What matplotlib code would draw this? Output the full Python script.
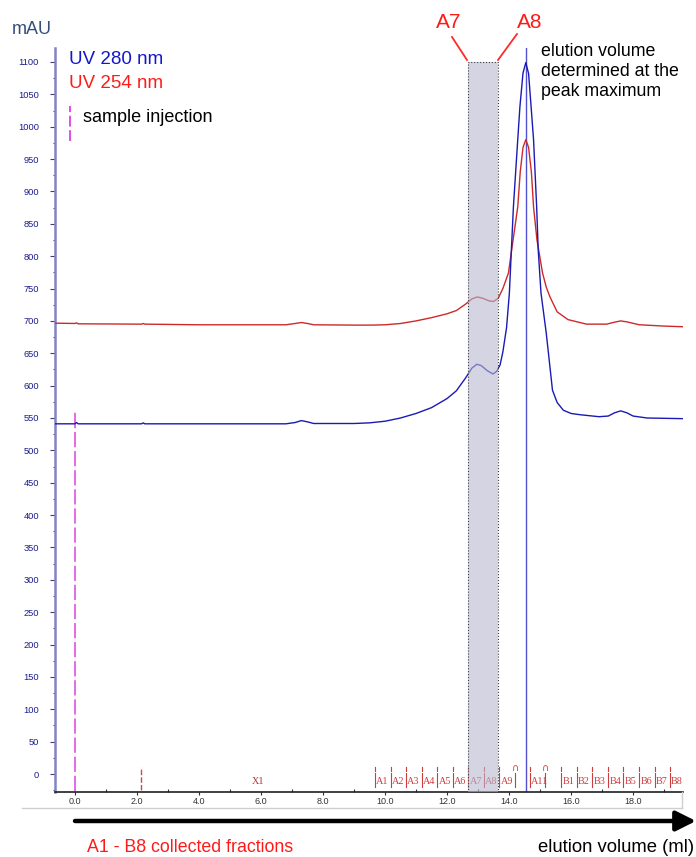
import matplotlib
matplotlib.use('Agg')
import matplotlib.pyplot as plt
from matplotlib.patches import Rectangle
from matplotlib.ticker import MultipleLocator, FormatStrFormatter

plt.rcParams['font.family'] = ['Liberation Sans', 'DejaVu Sans']

# UV 280 nm trace (ml, mAU)
uv280_ml = [-0.65, 0.0, 0.05, 0.1, 2.15, 2.2, 2.25, 6.8, 7.1, 7.3, 7.5, 7.7, 9.0, 9.5,
            10.0, 10.5, 11.0, 11.5, 12.0, 12.3, 12.6, 12.8, 12.96, 13.1, 13.3, 13.48,
            13.6, 13.71, 13.8, 13.92, 14.01, 14.14, 14.28, 14.35, 14.45, 14.54, 14.63,
            14.72, 14.79, 14.89, 14.94, 15.03, 15.2, 15.4, 15.55, 15.75, 16.0, 16.3,
            16.9, 17.2, 17.4, 17.6, 17.8, 18.0, 18.45, 19.0, 19.6]
uv280_mau = [541, 541, 543, 541, 541, 542.5, 541, 541, 543, 546, 544, 541.5, 541.5, 542.5,
             545, 550, 557, 566, 580, 592, 612, 627, 633, 631, 623, 618,
             622, 632, 652, 690, 743, 876, 980, 1031, 1083, 1099, 1082,
             1025, 980, 876, 810, 743, 681, 593, 574, 562, 557, 555,
             552, 553, 558, 561, 558, 553, 550, 549.5, 549]

# UV 254 nm trace
uv254_ml = [-0.65, 0.0, 0.05, 0.1, 2.15, 2.2, 2.25, 4.0, 6.8, 7.1, 7.3, 7.5, 7.7, 9.0,
            9.6, 10.0, 10.5, 11.0, 11.5, 12.0, 12.3, 12.6, 12.8, 12.97, 13.15, 13.35,
            13.5, 13.65, 13.8, 13.98, 14.1, 14.28, 14.36, 14.45, 14.54, 14.63, 14.72,
            14.79, 14.9, 15.08, 15.2, 15.32, 15.55, 15.9, 16.5, 17.15, 17.4, 17.6, 17.8,
            18.2, 19.0, 19.6]
uv254_mau = [696.5, 696, 697, 695.5, 695, 696, 695, 694, 694, 696, 697.5, 696, 694, 693.5,
             693.5, 694, 696, 700, 705, 711, 716, 726, 734, 737, 735, 731,
             730, 735, 750, 774, 815, 876, 930, 968, 980, 968, 930,
             876, 825, 774, 752, 737, 714, 702, 695, 695, 698, 700, 698.5,
             694, 692, 691]

# fraction collector marks
frac_start = [9.68, 10.18, 10.68, 11.18, 11.69, 12.18, 12.69, 13.19, 13.69, 14.19,
              14.68, 15.16, 15.68, 16.18, 16.69, 17.2, 17.69, 18.2, 18.7, 19.19]
frac_names = ['A1', 'A2', 'A3', 'A4', 'A5', 'A6', 'A7', 'A8', 'A9', '',
              'A11', '', 'B1', 'B2', 'B3', 'B4', 'B5', 'B6', 'B7', 'B8']
arc_marks = [14.19, 15.16]

injection_ml = 0.0
peak_ml = 14.54
pooled = (12.68, 13.65)

W, H = 696, 857


def fx(px):
    return px / W


def fy(py):
    return 1 - py / H


fig = plt.figure(figsize=(W / 100, H / 100), dpi=100)
ax = fig.add_axes([fx(55), fy(792), fx(683) - fx(55), fy(48) - fy(792)])
ax.set_xlim(-0.645, 19.61)
ax.set_ylim(-27.8, 1121.6)

ax.plot(uv254_ml, uv254_mau, color='#cc2a2a', lw=1.0, zorder=3)
ax.plot(uv280_ml, uv280_mau, color='#1a1ab4', lw=1.0, zorder=3)

# sample injection
ax.plot([injection_ml, injection_ml], [-27, 562], color='#e040e0', lw=1.1,
        dashes=(10, 2.5), zorder=2)
ax.plot([2.12, 2.12], [-25, 11], color='#d04848', lw=1.0, dashes=(4, 1.5), zorder=2)

# peak maximum line
ax.axvline(peak_ml, color='#5050d0', lw=1.0, zorder=2)

# fractions
frac_col = '#d03c3c'
for x0, name in zip(frac_start, frac_names):
    ax.plot([x0, x0], [-20, 2], color=frac_col, lw=0.8, zorder=2)
    if x0 not in arc_marks:
        ax.plot([x0, x0], [5, 11], color=frac_col, lw=0.8, zorder=2)
    if name:
        ax.text(x0 + 0.04, -11, name, color=frac_col, fontsize=7.3,
                family='Liberation Serif', va='center', ha='left', zorder=2)
for xa in arc_marks:
    ax.text(xa, 9, '\u2229', color=frac_col, fontsize=7, va='center', ha='center',
            family='DejaVu Sans', zorder=2)
ax.text(5.9, -12, 'X1', color='#b83030', fontsize=7.3, family='Liberation Serif',
        va='center', ha='center')

# pooled fractions A7 - A8
ax.add_patch(Rectangle((pooled[0], -27.8), pooled[1] - pooled[0], 1100 + 27.8,
                       facecolor=(0.72, 0.72, 0.82), alpha=0.6, edgecolor='none', zorder=4))
ax.add_patch(Rectangle((pooled[0], -27.8), pooled[1] - pooled[0], 1100 + 27.8,
                       facecolor='none', edgecolor='#404040', lw=0.8, ls=':', zorder=5,
                       clip_on=False))

# axes styling
for s in ['top', 'right']:
    ax.spines[s].set_visible(False)
ax.spines['left'].set_color('#8282c4')
ax.spines['left'].set_linewidth(1.8)
ax.spines['bottom'].set_color('#202020')
ax.spines['bottom'].set_linewidth(1.2)

ax.yaxis.set_major_locator(MultipleLocator(50))
ax.yaxis.set_minor_locator(MultipleLocator(25))
ax.yaxis.set_major_formatter(FormatStrFormatter('%d'))
ax.tick_params(axis='y', which='major', direction='out', length=3.5, width=0.8,
               color='#404070', labelsize=6.7, labelcolor='#1c1c8c', pad=8)
ax.tick_params(axis='y', which='minor', direction='out', length=1.5, width=0.8,
               color='#404070')
ax.set_ylim(-27.8, 1121.6)

ax.xaxis.set_major_locator(MultipleLocator(2))
ax.xaxis.set_minor_locator(MultipleLocator(1))
ax.xaxis.set_major_formatter(FormatStrFormatter('%.1f'))
ax.tick_params(axis='x', which='major', direction='out', length=2.5, width=0.8,
               color='#303030', labelsize=6.5, labelcolor='#333333', pad=1)
ax.tick_params(axis='x', which='minor', direction='in', length=2, width=0.8,
               color='#303030')
ax.set_xlim(-0.645, 19.61)

# panel edge lines
fig.add_artist(plt.Line2D([fx(22), fx(682)], [fy(808), fy(808)], color='#cfcfcf', lw=1))
fig.add_artist(plt.Line2D([fx(682), fx(682)], [fy(792), fy(808)], color='#cfcfcf', lw=1))

# texts around the plot
fig.text(fx(12), fy(29), 'mAU', color='#34507a', fontsize=13, va='center', ha='left')
fig.text(fx(69), fy(60), 'UV 280 nm', color='#1515d0', fontsize=13.5, va='center')
fig.text(fx(69), fy(83), 'UV 254 nm', color='#ff1a1a', fontsize=13.5, va='center')
fig.add_artist(plt.Line2D([fx(70), fx(70)], [fy(141), fy(106)], color='#e040e0', lw=1.3,
                          dashes=(6, 2)))
fig.text(fx(83), fy(118), 'sample injection', color='black', fontsize=13, va='center')

fig.text(fx(449), fy(23), 'A7', color='#ff1a1a', fontsize=15, va='center', ha='center')
fig.text(fx(530), fy(23), 'A8', color='#ff1a1a', fontsize=15, va='center', ha='center')
fig.add_artist(plt.Line2D([fx(452), fx(467)], [fy(37), fy(60)], color='#ff2a2a', lw=1.3))
fig.add_artist(plt.Line2D([fx(517), fx(498)], [fy(34), fy(60)], color='#ff2a2a', lw=1.3))

fig.text(fx(541), fy(43), 'elution volume\ndetermined at the\npeak maximum', color='black',
         fontsize=12.8, va='top', ha='left', linespacing=1.25)

ax.annotate('', xy=(fx(696), fy(821)), xytext=(fx(75), fy(821)),
            xycoords='figure fraction', textcoords='figure fraction',
            arrowprops=dict(arrowstyle='-|>', lw=3.2, color='black',
                            mutation_scale=30, shrinkA=0, shrinkB=0))
fig.text(fx(87), fy(848), 'A1 - B8 collected fractions', color='#ff1a1a', fontsize=12.8,
         va='center', ha='left')
fig.text(fx(694), fy(848), 'elution volume (ml)', color='black', fontsize=13.3,
         va='center', ha='right')

fig.savefig('out.png', dpi=100)
